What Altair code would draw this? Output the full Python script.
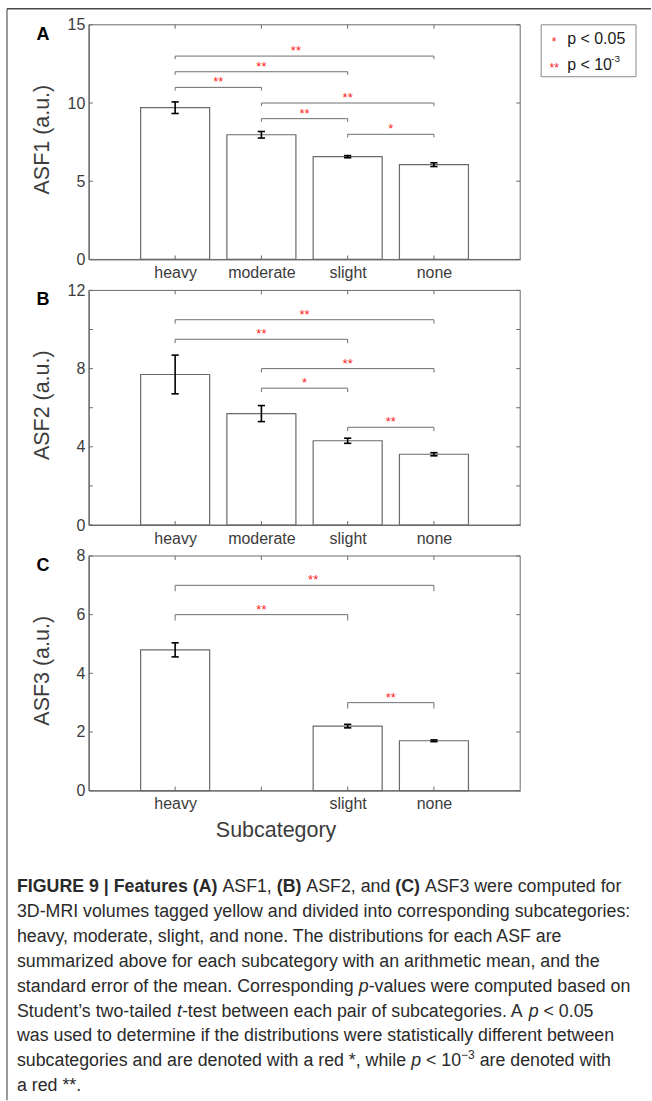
import json
import altair as alt
import pandas as pd

# ---------------- data ----------------
categories = ["heavy", "moderate", "slight", "none"]
cat_pos = [1, 2, 3, 4]

asf1_mean = [9.70, 7.97, 6.57, 6.06]
asf1_sem = [0.37, 0.21, 0.07, 0.12]
asf2_mean = [7.70, 5.70, 4.31, 3.62]
asf2_sem = [0.99, 0.41, 0.13, 0.08]
asf3_mean = [4.80, None, 2.20, 1.70]
asf3_sem = [0.24, None, 0.06, 0.03]

# significance brackets: (from, to, level, stars, star x)
asf1_brackets = [(1, 4, 13.0, "**", 2.4), (1, 3, 12.0, "**", 2.0), (1, 2, 11.0, "**", 1.5),
                 (2, 4, 10.0, "**", 3.0), (2, 3, 9.0, "**", 2.5), (3, 4, 8.0, "*", 3.5)]
asf2_brackets = [(1, 4, 10.5, "**", 2.5), (1, 3, 9.5, "**", 2.0), (2, 4, 8.0, "**", 3.0),
                 (2, 3, 7.0, "*", 2.5), (3, 4, 5.0, "**", 3.5)]
asf3_brackets = [(1, 4, 7.0, "**", 2.6), (1, 3, 6.0, "**", 2.0), (3, 4, 3.0, "**", 3.5)]

asf1_yticks = [0, 5, 10, 15]
asf1_ylabels = [0, 5, 10, 15]
asf2_yticks = [0, 2, 4, 6, 8, 10, 12]
asf2_ylabels = [0, 4, 8, 12]
asf3_yticks = [0, 2, 4, 6, 8]
asf3_ylabels = [0, 2, 4, 6, 8]

legend_symbols = ["*", "**"]
legend_labels = ["p < 0.05", "p < 10"]

caption_lines = [
    [("FIGURE 9 | Features (A)", "bold"), (" ASF1, ", "normal"), ("(B)", "bold"),
     (" ASF2, and ", "normal"), ("(C)", "bold"), (" ASF3 were computed for", "normal")],
    [("3D-MRI volumes tagged yellow and divided into corresponding subcategories:", "normal")],
    [("heavy, moderate, slight, and none. The distributions for each ASF are", "normal")],
    [("summarized above for each subcategory with an arithmetic mean, and the", "normal")],
    [("standard error of the mean. Corresponding ", "normal"), ("p", "italic"),
     ("-values were computed based on", "normal")],
    [("Student\u2019s two-tailed ", "normal"), ("t", "italic"),
     ("-test between each pair of subcategories. A ", "normal"), ("p", "italic"),
     (" < 0.05", "normal")],
    [("was used to determine if the distributions were statistically different between", "normal")],
    [("subcategories and are denoted with a red *, while ", "normal"), ("p", "italic"),
     (" < 10", "normal"), ("\u22123", "super"), (" are denoted with", "normal")],
    [("a red **.", "normal")],
]

# ---------------- style ----------------
W, H = 432, 235
AX = "#6a6a6a"
TXT = "#3c3c3c"
BR = "#6e6e6e"
RED = "#ff1a1a"
FONT = "Liberation Sans"
LFS = 16
TFS = 21.5
x_scale = alt.Scale(domain=[0, 5], nice=False, zero=False)
one = pd.DataFrame({"k": [0]})


def make_panel(letter, ytitle, means, sems, brackets, ymax, ylabels, yticks, xlabels,
               xtitle=None, legend=False, frame=False):
    df = pd.DataFrame({"cat": categories, "pos": cat_pos, "mean": means, "sem": sems}).dropna()
    ys = alt.Scale(domain=[0, ymax], nice=False, zero=True)
    label_expr = json.dumps([""] + xlabels) + "[datum.value]"
    xax = dict(values=cat_pos, labelExpr=label_expr, ticks=False, grid=False, domainColor=AX,
               labelColor=TXT, labelFontSize=LFS, labelPadding=5, labelFont=FONT)
    if xtitle:
        xax.update(title=xtitle, titleFontSize=TFS, titleFontWeight="normal", titleColor=TXT,
                   titleX=187, titleY=40, titleBaseline="middle", titleAlign="center", titleFont=FONT)
    else:
        xax.update(title=None)
    XA = alt.Axis(**xax)
    YA = alt.Axis(values=ylabels, ticks=False, grid=False, domainColor=AX, labelColor=TXT,
                  labelFontSize=LFS, labelPadding=4, labelFont=FONT, title=ytitle,
                  titleFontSize=TFS, titleFontWeight="normal", titleColor=TXT, titleFont=FONT,
                  titleX=-46, titleY=H / 2 - 3, titleBaseline="middle", titleAlign="center")

    def X(f):
        return alt.X(f, scale=x_scale, axis=XA)

    def Y(f):
        return alt.Y(f, scale=ys, axis=YA)

    base = alt.Chart(df)
    bars = base.transform_calculate(lo="datum.pos - 0.4", hi="datum.pos + 0.4").mark_rect(
        fill="white", stroke=AX, strokeWidth=1.2).encode(
        x=X("lo:Q"), x2="hi:Q", y=Y("mean:Q"), y2=alt.datum(0))
    ebase = base.transform_calculate(elo="datum.mean - datum.sem", ehi="datum.mean + datum.sem")
    ebar = ebase.mark_rule(color="black", strokeWidth=1.6).encode(
        x=X("pos:Q"), y=Y("elo:Q"), y2="ehi:Q")
    caps = ebase.transform_fold(["elo", "ehi"], as_=["end", "v"]).transform_calculate(
        c1="datum.pos - 0.042", c2="datum.pos + 0.042").mark_rule(
        color="black", strokeWidth=1.6).encode(x=X("c1:Q"), x2="c2:Q", y=Y("v:Q"))

    bdf = pd.DataFrame(brackets, columns=["a", "b", "level", "stars", "sx"])
    hline = alt.Chart(bdf).mark_rule(color=BR, strokeWidth=1).encode(
        x=X("a:Q"), x2="b:Q", y=Y("level:Q"))
    drops = alt.Chart(bdf).transform_fold(["a", "b"], as_=["end", "xe"]).transform_calculate(
        drop="datum.level - 0.2").mark_rule(color=BR, strokeWidth=1).encode(
        x=X("xe:Q"), y=Y("level:Q"), y2="drop:Q")
    stars = alt.Chart(bdf).mark_text(color=RED, fontSize=13, baseline="alphabetic", dy=-1,
                                     font=FONT).encode(x=X("sx:Q"), y=Y("level:Q"), text="stars:N")

    tdf = pd.DataFrame({"v": yticks})
    ytl = alt.Chart(tdf).mark_rule(color=AX).encode(y=Y("v:Q"), x=alt.value(0), x2=alt.value(4))
    ytr = alt.Chart(tdf).mark_rule(color=AX).encode(y=Y("v:Q"), x=alt.value(W - 4), x2=alt.value(W))
    xdf = pd.DataFrame({"p": cat_pos})
    xtt = alt.Chart(xdf).mark_rule(color=AX).encode(x=X("p:Q"), y=alt.value(0), y2=alt.value(4))
    xtb = alt.Chart(xdf).mark_rule(color=AX).encode(x=X("p:Q"), y=alt.value(H - 4), y2=alt.value(H))

    box = alt.Chart(one).mark_rect(fill="transparent", stroke=AX, strokeWidth=1).encode(
        x=alt.value(0), x2=alt.value(W), y=alt.value(0), y2=alt.value(H))
    let = alt.Chart(pd.DataFrame({"t": [letter]})).mark_text(
        fontSize=18, fontWeight="bold", color="black", align="center", baseline="middle",
        font=FONT).encode(text="t:N", x=alt.value(-46), y=alt.value(10))

    layers = [bars, box, ebar, caps, hline, drops, stars, ytl, ytr, xtt, xtb, let]

    if legend:
        lbox = alt.Chart(one).mark_rect(fill="white", stroke="#8a8a8a", strokeWidth=1).encode(
            x=alt.value(453), x2=alt.value(548), y=alt.value(0), y2=alt.value(52))
        layers.append(lbox)
        for i, (sym, lab) in enumerate(zip(legend_symbols, legend_labels)):
            yy = 14 + 26 * i
            layers.append(alt.Chart(pd.DataFrame({"t": [sym]})).mark_text(
                color=RED, fontSize=12, align="center", baseline="alphabetic", font=FONT).encode(
                text="t:N", x=alt.value(466), y=alt.value(yy + 7)))
            layers.append(alt.Chart(pd.DataFrame({"t": [lab]})).mark_text(
                color="#1a1a1a", fontSize=16, align="left", baseline="middle", font=FONT).encode(
                text="t:N", x=alt.value(479), y=alt.value(yy)))
        layers.append(alt.Chart(pd.DataFrame({"t": ["-3"]})).mark_text(
            color="#1a1a1a", fontSize=10, align="left", baseline="middle", font=FONT).encode(
            text="t:N", x=alt.value(523), y=alt.value(34)))

    if frame:
        layers.append(alt.Chart(one).mark_rule(color="#9a9a9a", strokeWidth=2).encode(
            x=alt.value(-82), y=alt.value(-16), y2=alt.value(1077)))
        layers.append(alt.Chart(one).mark_rule(color="#4a4a4a", strokeWidth=1.5).encode(
            x=alt.value(-82), x2=alt.value(563), y=alt.value(-16)))

    return alt.layer(*layers).properties(width=W, height=H)


pA = make_panel("A", "ASF1 (a.u.)", asf1_mean, asf1_sem, asf1_brackets, 15,
                asf1_ylabels, asf1_yticks, categories, legend=True, frame=True)
pB = make_panel("B", "ASF2 (a.u.)", asf2_mean, asf2_sem, asf2_brackets, 12,
                asf2_ylabels, asf2_yticks, categories)
pC = make_panel("C", "ASF3 (a.u.)", asf3_mean, asf3_sem, asf3_brackets, 8,
                asf3_ylabels, asf3_yticks, ["heavy", "", "slight", "none"], xtitle="Subcategory")

# ---------------- caption (segments laid out with Helvetica/Arial advance widths) ----------------
REG = {" ": 278, "!": 278, "(": 333, ")": 333, "*": 389, ",": 278, "-": 333, ".": 278, ":": 278,
       "<": 584, "|": 260, "\u2019": 222, "\u2212": 584}
REG.update({d: 556 for d in "0123456789"})
REG.update(dict(zip("ABCDEFGHIJKLMNOPQRSTUVWXYZ",
                    [667, 667, 722, 722, 667, 611, 778, 722, 278, 500, 667, 556, 833, 722, 778, 667,
                     778, 722, 667, 611, 722, 667, 944, 667, 667, 611])))
REG.update(dict(zip("abcdefghijklmnopqrstuvwxyz",
                    [556, 556, 500, 556, 556, 278, 556, 556, 222, 222, 500, 222, 833, 556, 556, 556,
                     556, 333, 500, 278, 556, 500, 722, 500, 500, 500])))
BOLD = dict(REG)
BOLD.update({"|": 280, "A": 722, "B": 722, "C": 722, "D": 722, "R": 722, "U": 722, "r": 389,
             "s": 556, "t": 333, "u": 611})

CAPFS = 17.8
SUPFS = 12
CAP_LEFT = 17


def seg_width(text, style):
    table = BOLD if style == "bold" else REG
    size = SUPFS if style == "super" else CAPFS
    return sum(table.get(ch, 556) for ch in text) * size / 1000.0


rows = []
for li, segs in enumerate(caption_lines):
    cursor = CAP_LEFT
    for text, style in segs:
        lead = len(text) - len(text.lstrip(" "))
        rows.append({"line": li, "text": text.strip(), "style": style,
                     "x": cursor + seg_width(" " * lead, style)})
        cursor += seg_width(text, style)
cap_df = pd.DataFrame(rows)

cx = alt.Scale(domain=[0, 652], range=[-89, 563])
cy = alt.Scale(domain=[0, 8], range=[71, 270])
CAPC = "#2a2a2a"


def cap_layer(style, **kw):
    return alt.Chart(cap_df).transform_filter(f"datum.style == '{style}'").mark_text(
        align="left", baseline="alphabetic", font=FONT, color=CAPC, **kw).encode(
        x=alt.X("x:Q", scale=cx, axis=None),
        y=alt.Y("line:Q", scale=cy, axis=None),
        text="text:N")


caption = alt.layer(
    cap_layer("normal", fontSize=CAPFS),
    cap_layer("bold", fontSize=CAPFS, fontWeight="bold"),
    cap_layer("italic", fontSize=CAPFS, fontStyle="italic"),
    cap_layer("super", fontSize=SUPFS, dy=-7),
).properties(width=W, height=270)

chart = alt.vconcat(pA, pB, pC, caption, spacing=31, bounds="flush").properties(
    padding={"left": 6, "top": 7, "right": 0, "bottom": 0}
).configure(background="white", font=FONT).configure_view(strokeWidth=0)

chart.save("out.html", embed_options={"renderer": "svg", "actions": False})
